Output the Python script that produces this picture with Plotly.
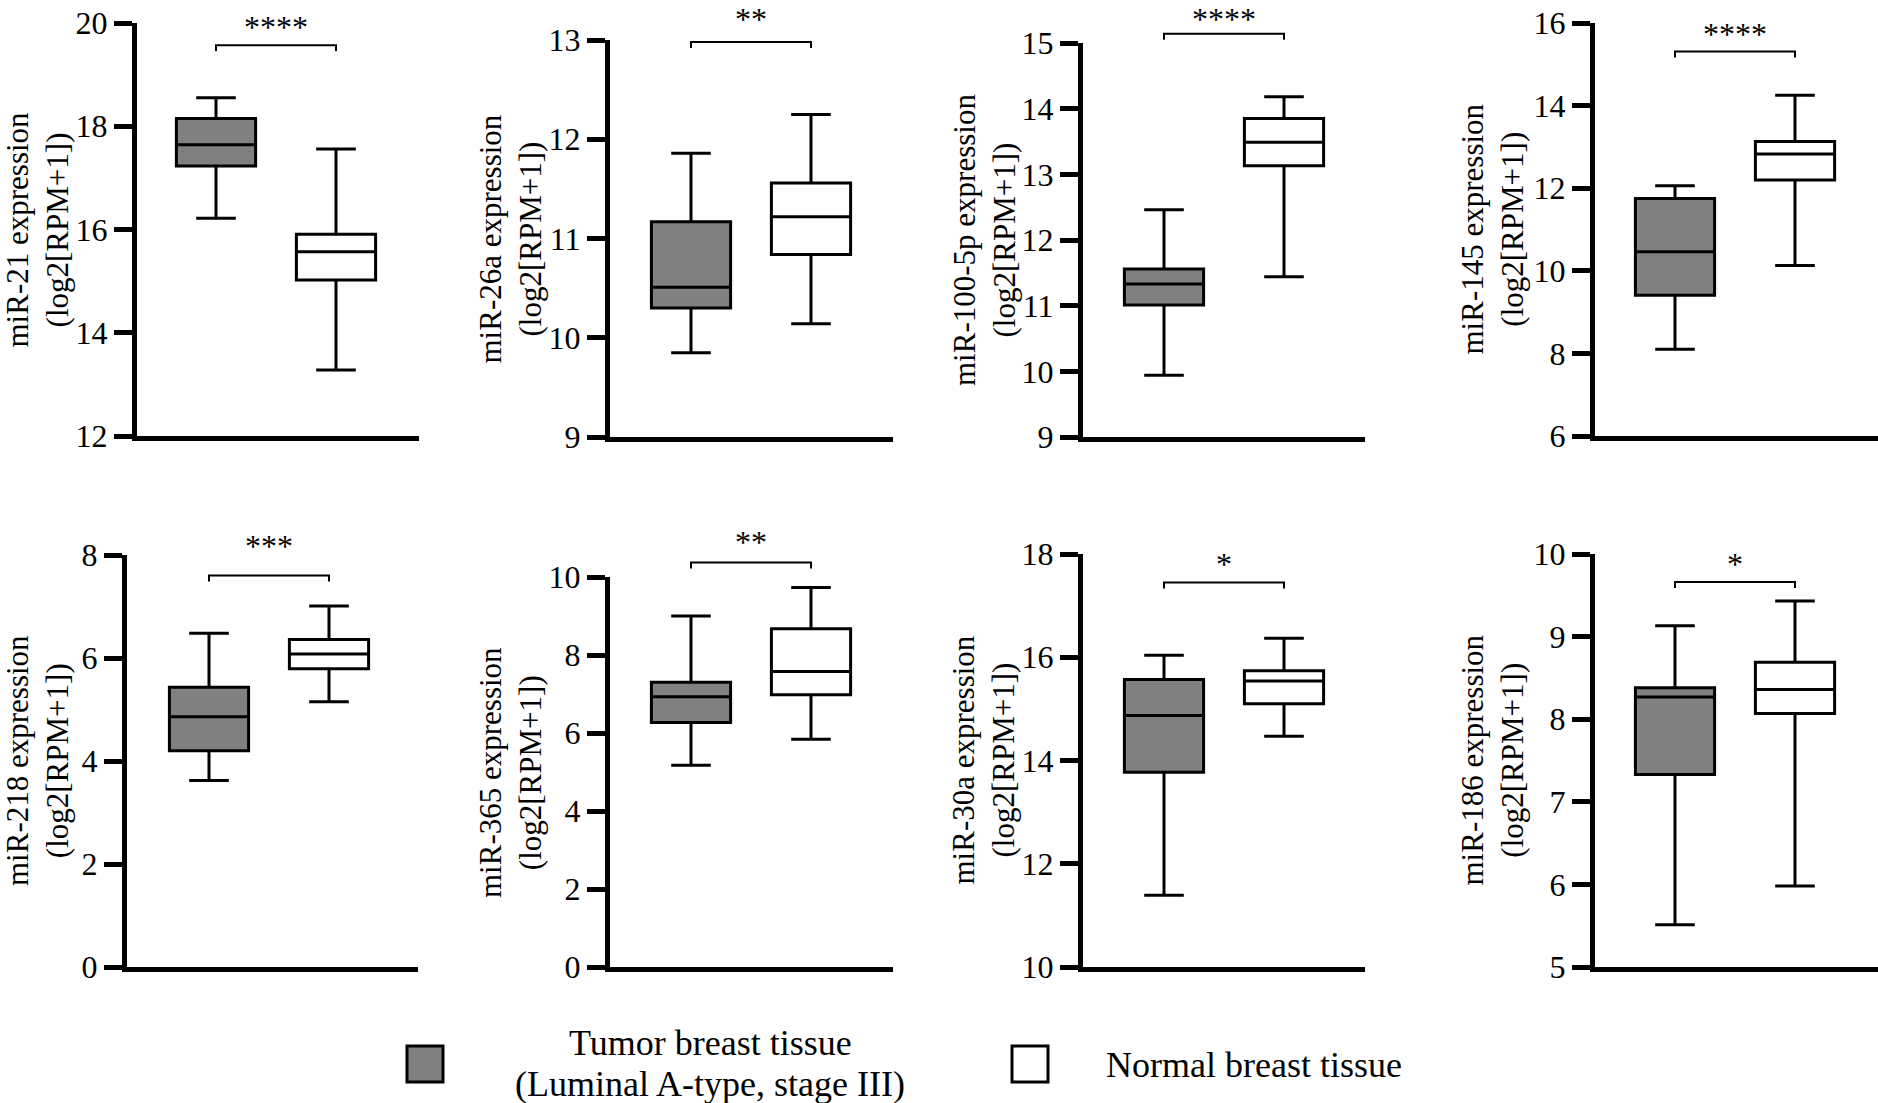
import plotly.graph_objects as go

# data (log2[RPM+1])
mirnas = ["miR-21", "miR-26a", "miR-100-5p", "miR-145", "miR-218", "miR-365", "miR-30a", "miR-186"]

tumor_lower = [16.22, 9.85, 9.94, 8.10, 3.62, 5.17, 11.39, 5.51]
tumor_q1 = [17.23, 10.30, 11.01, 9.41, 4.20, 6.27, 13.77, 7.33]
tumor_median = [17.64, 10.51, 11.33, 10.46, 4.86, 6.93, 14.87, 8.27]
tumor_q3 = [18.15, 11.17, 11.56, 11.75, 5.43, 7.30, 15.57, 8.38]
tumor_upper = [18.55, 11.86, 12.46, 12.06, 6.48, 9.00, 16.04, 9.13]

normal_lower = [13.28, 10.14, 11.44, 10.13, 5.15, 5.84, 14.47, 5.98]
normal_q1 = [15.02, 10.84, 13.13, 12.20, 5.79, 6.98, 15.10, 8.07]
normal_median = [15.57, 11.22, 13.49, 12.83, 6.08, 7.58, 15.54, 8.36]
normal_q3 = [15.91, 11.56, 13.85, 13.13, 6.36, 8.67, 15.74, 8.69]
normal_upper = [17.56, 12.25, 14.18, 14.25, 7.01, 9.73, 16.37, 9.43]

significance = ["****", "**", "****", "****", "***", "**", "*", "*"]
bracket_y = [19.57, 12.98, 15.14, 15.31, 7.60, 10.37, 17.45, 9.66]
star_y = [20.0, 13.32, 15.55, 15.83, 8.25, 11.0, 17.88, 9.93]

y_min = [12, 9, 9, 6, 0, 0, 10, 5]
y_max = [20, 13, 15, 16, 8, 10, 18, 10]
y_dtick = [2, 1, 1, 2, 2, 2, 2, 1]

legend_tumor = ["Tumor breast tissue", "(Luminal A-type, stage III)"]
legend_normal = "Normal breast tissue"

# layout in screen pixels (body margin is removed in the page, see write_html below)
W, H = 1878, 1103
panel_px = [(137, 419, 23, 436), (610, 893, 40, 437), (1083, 1365, 43, 437), (1595, 1878, 23, 436),
            (127, 418, 555, 967), (610, 893, 577, 967), (1083, 1365, 554, 967), (1595, 1878, 554, 967)]
tumor_px = [216, 691, 1164, 1675, 209, 691, 1164, 1675]
unit_px = 120
title_px = [37, 510, 984, 1492, 37, 510, 983, 1492]
ext_top = [0, 0, 0, 0, 520, 520, 520, 520]
star_min_px = 22  # keep the star text fully inside the page

FONT = "Liberation Serif"
GRAY = "#808080"


def px_x(p):
    return p / W


def px_y(p):
    return 1 - p / H


def ax_name(letter, n):
    return f"{letter}axis" if n == 1 else f"{letter}axis{n}"


def ax_ref(letter, n):
    return letter if n == 1 else f"{letter}{n}"


fig = go.Figure()
layout = {}
annotations = []

for i, name in enumerate(mirnas):
    n = i + 1
    m = i + 9
    x0, x1, top, bottom = panel_px[i]
    xmin = -(tumor_px[i] - x0) / unit_px
    xmax = xmin + (x1 - x0) / unit_px
    xdom = [px_x(x0), min(px_x(x1), 1)]

    for pos, fill, lo, q1, med, q3, hi in [
        (0, GRAY, tumor_lower, tumor_q1, tumor_median, tumor_q3, tumor_upper),
        (1, "white", normal_lower, normal_q1, normal_median, normal_q3, normal_upper),
    ]:
        fig.add_trace(go.Box(
            x=[pos], q1=[q1[i]], median=[med[i]], q3=[q3[i]],
            lowerfence=[lo[i]], upperfence=[hi[i]],
            fillcolor=fill, line=dict(color="black", width=3),
            width=0.66, whiskerwidth=0.5, boxpoints=False, showlegend=False,
            xaxis=ax_ref("x", n), yaxis=ax_ref("y", n), hoverinfo="skip",
        ))

    layout[ax_name("x", n)] = dict(
        domain=xdom, range=[xmin, xmax], showline=True, linewidth=5, linecolor="black",
        showticklabels=False, ticks="", showgrid=False, zeroline=False, anchor=ax_ref("y", n),
        automargin=False,
    )
    layout[ax_name("y", n)] = dict(
        domain=[px_y(bottom), px_y(top)], range=[y_min[i], y_max[i]],
        tickmode="linear", tick0=y_min[i], dtick=y_dtick[i],
        showline=True, linewidth=5, linecolor="black", ticks="outside", ticklen=18,
        tickwidth=5, tickcolor="black", showgrid=False, zeroline=False,
        tickfont=dict(family=FONT, size=32, color="black"), anchor=ax_ref("x", n),
        ticklabeloverflow="allow", automargin=False,
    )

    # overlay subplot (same scale, taller) for the significance bracket and stars
    scale = (y_max[i] - y_min[i]) / (bottom - top)
    ext_max = y_min[i] + scale * (bottom - ext_top[i])
    layout[ax_name("x", m)] = dict(domain=xdom, range=[xmin, xmax], visible=False,
                                   anchor=ax_ref("y", m), automargin=False)
    layout[ax_name("y", m)] = dict(domain=[px_y(bottom), px_y(ext_top[i])], range=[y_min[i], ext_max],
                                   visible=False, anchor=ax_ref("x", m), automargin=False)
    tick = scale * 6
    b = bracket_y[i]
    fig.add_trace(go.Scatter(
        x=[0, 0, 1, 1], y=[b - tick, b, b, b - tick], mode="lines",
        line=dict(color="black", width=2), showlegend=False, hoverinfo="skip",
        xaxis=ax_ref("x", m), yaxis=ax_ref("y", m),
    ))
    # asterisks sit high in the glyph box, so nudge the text down a few pixels
    star_pos = min(star_y[i] - scale * 7, y_min[i] + scale * (bottom - star_min_px))
    fig.add_trace(go.Scatter(
        x=[0.5], y=[star_pos], mode="text", text=[significance[i]],
        textfont=dict(family=FONT, size=32, color="black"), cliponaxis=False,
        showlegend=False, hoverinfo="skip", xaxis=ax_ref("x", m), yaxis=ax_ref("y", m),
    ))

    annotations.append(dict(
        text=f"{name} expression<br>(log2[RPM+1])", textangle=-90,
        xref="paper", x=px_x(title_px[i]), xanchor="center",
        yref=f"{ax_ref('y', n)} domain", y=0.5, yanchor="middle",
        showarrow=False, font=dict(family=FONT, size=31, color="black"),
    ))

# legend
shapes = [
    dict(type="rect", xref="paper", yref="paper", x0=px_x(407), x1=px_x(443), y0=px_y(1082), y1=px_y(1046),
         fillcolor=GRAY, line=dict(color="black", width=3)),
    dict(type="rect", xref="paper", yref="paper", x0=px_x(1012), x1=px_x(1048), y0=px_y(1082), y1=px_y(1046),
         fillcolor="white", line=dict(color="black", width=3)),
]
for line_text, ypx in zip(legend_tumor, [1043, 1084]):
    annotations.append(dict(
        text=line_text, xref="paper", yref="paper",
        x=px_x(710), y=px_y(ypx), xanchor="center", yanchor="middle", showarrow=False,
        font=dict(family=FONT, size=36, color="black"),
    ))
annotations.append(dict(
    text=legend_normal, xref="paper", yref="paper",
    x=px_x(1104), y=px_y(1065), xanchor="left", yanchor="middle", showarrow=False,
    font=dict(family=FONT, size=36, color="black"),
))

fig.update_layout(
    template="none",
    width=W, height=H, margin=dict(l=0, r=0, t=0, b=0, pad=0, autoexpand=False),
    paper_bgcolor="white", plot_bgcolor="rgba(0,0,0,0)",
    boxmode="overlay", showlegend=False,
    annotations=annotations, shapes=shapes, **layout,
)

fig.write_html("out.html", config={"displayModeBar": False},
               post_script="document.body.style.margin = '0'; document.body.style.overflow = 'hidden';")
